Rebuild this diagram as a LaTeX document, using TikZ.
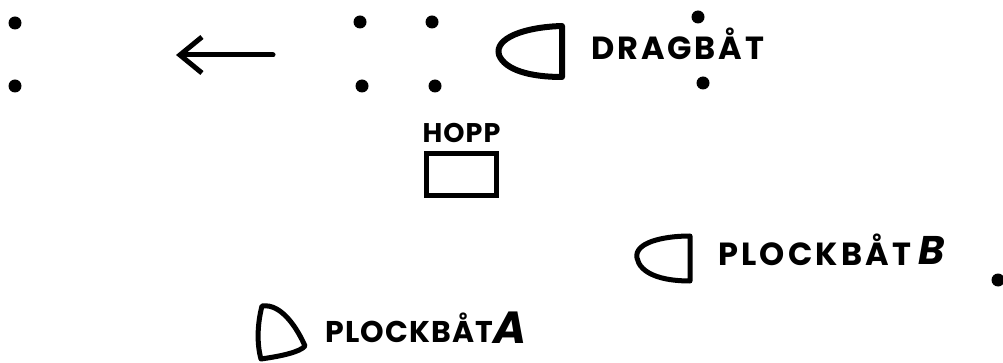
\documentclass[tikz,border=0pt]{standalone}
\usepackage{fontspec}
\setmainfont{Poppins}
\usetikzlibrary{arrows.meta,positioning}
\definecolor{ink}{RGB}{0,0,0}
\tikzset{
  boat/.style={ink, line width=5pt, line join=round, line cap=round},
  boattext/.style={ink, inner sep=0pt, font=\bfseries\fontsize{32}{32}\selectfont\addfontfeature{LetterSpace=9}},
  boatletter/.style={ink, inner sep=0pt, font=\bfseries\itshape\fontsize{40}{40}\selectfont},
  buoy/.style={ink},
}
\begin{document}
\begin{tikzpicture}[x=1pt, y=-1pt]
    \useasboundingbox (0,0) rectangle (1003,363);
    % Course marks (buoys)
    \foreach \bx/\by in {15/23, 15/86, 360/22, 432/22, 362/86, 435/86, 698/17, 703/83, 998/280} {
      \fill[buoy] (\bx,\by) circle (6.5pt);
    }
    % Direction arrow
    \coordinate (arrowtail) at (273,55);
    \coordinate (arrowtip) at (176,55);
    \draw[ink, line width=5pt, line cap=round, -{Straight Barb[length=22pt, width=36pt, line width=5pt]}] (arrowtail) -- (arrowtip);
    % Towing boat
    \draw[boat, line width=6pt] (562,26) -- (562,77) .. controls (530,77) and (505,70) .. (499,55)
      .. controls (494,38) and (525,27) .. cycle;
    \node[boattext, anchor=west] (dragbat) at (591,44) {DRAGBÅT};
    % Jump
    \node[draw, ink, line width=5pt, minimum width=70pt, minimum height=42pt, inner sep=0pt] (hoppbox) at (461.5,174.5) {};
    \node[boattext, font=\bfseries\fontsize{27}{27}\selectfont\addfontfeature{LetterSpace=4}, above=8pt of hoppbox] (hopp) {HOPP};
    % Pick-up boat B
    \draw[boat] (690,236) -- (690,281) .. controls (660,281) and (640,273) .. (637,258)
      .. controls (634,243) and (662,236) .. cycle;
    \node[boattext, font=\bfseries\fontsize{32}{32}\selectfont\addfontfeature{LetterSpace=10}, anchor=west] (plockB) at (718,250) {PLOCKBÅT};
    \node[boatletter, right=7pt of plockB] (letterB) {B};
    % Pick-up boat A
    \draw[boat] (262,306) .. controls (257,325) and (257,345) .. (261,359)
      .. controls (282,356) and (300,352) .. (305,346) .. controls (298,330) and (282,303) .. cycle;
    \node[boattext, font=\bfseries\fontsize{30}{30}\selectfont\addfontfeature{LetterSpace=4}, anchor=west] (plockA) at (325,328) {PLOCKBÅT};
    \node[boatletter, font=\bfseries\itshape\fontsize{45}{45}\selectfont, right=0pt of plockA] (letterA) {A};
\end{tikzpicture}
\end{document}
